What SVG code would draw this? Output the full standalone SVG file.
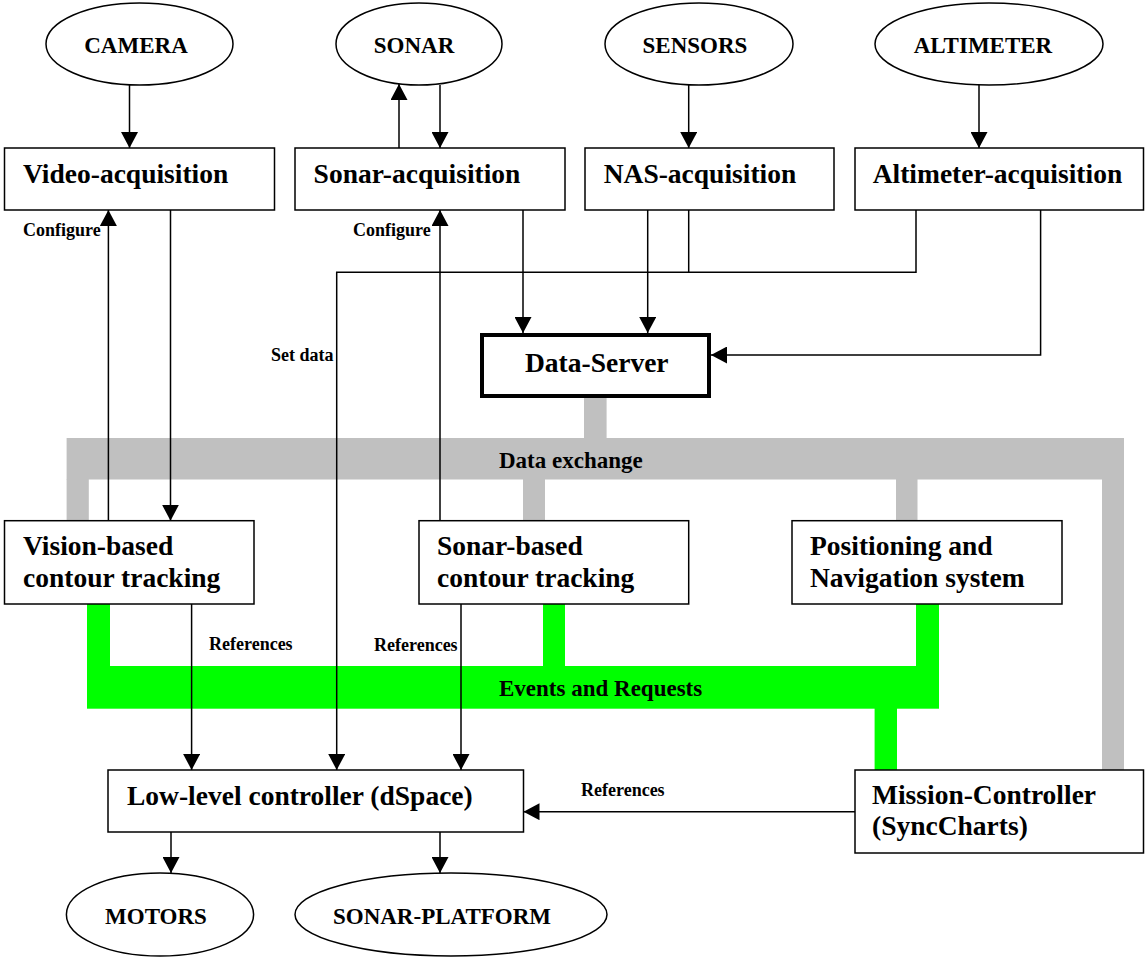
<svg xmlns="http://www.w3.org/2000/svg" width="1145" height="957" viewBox="0 0 1145 957">
<style>
.box{fill:#fff;stroke:#000;stroke-width:1.5}
.ell{fill:#fff;stroke:#000;stroke-width:1.5}
.bl{font-family:"Liberation Serif","Times New Roman",serif;font-weight:bold;font-size:27.5px;fill:#000}
.el{font-family:"Liberation Serif","Times New Roman",serif;font-weight:bold;font-size:23px;fill:#000;text-anchor:middle}
.sl{font-family:"Liberation Serif","Times New Roman",serif;font-weight:bold;font-size:18px;fill:#000}
.bus{font-family:"Liberation Serif","Times New Roman",serif;font-weight:bold;font-size:23px;fill:#000}
.ln{fill:none;stroke:#000;stroke-width:1.5}
.arr{fill:none;stroke:#000;stroke-width:1.5;marker-end:url(#ah)}
.gray{fill:#c0c0c0}
.green{fill:#00ff00}
</style>
<defs>
<marker id="ah" markerUnits="userSpaceOnUse" markerWidth="16" markerHeight="17" refX="16" refY="8.5" orient="auto">
<path d="M0,0 L16,8.5 L0,17 z" fill="#000"/>
</marker>
</defs>
<rect width="1145" height="957" fill="#fff"/>

<g id="buses">
<g id="data-exchange-bus">
<rect class="gray" x="584" y="398" width="22.6" height="41"/>
<rect class="gray" x="66.6" y="438" width="1057.4" height="41.5"/>
<rect class="gray" x="66.6" y="479" width="22.2" height="42"/>
<rect class="gray" x="523" y="479" width="22" height="42"/>
<rect class="gray" x="896" y="479" width="21.5" height="42"/>
<rect class="gray" x="1102" y="479" width="22" height="291"/>
<text class="bus" x="499" y="468">Data exchange</text>
</g>
<g id="events-bus">
<rect class="green" x="87" y="604" width="23" height="63"/>
<rect class="green" x="543" y="604" width="22" height="63"/>
<rect class="green" x="916" y="604" width="23" height="63"/>
<rect class="green" x="87" y="666" width="852" height="42.7"/>
<rect class="green" x="874.6" y="708" width="22.4" height="62"/>
<text class="bus" x="499" y="696">Events and Requests</text>
</g>
</g>

<g id="connectors">
<line class="arr" x1="129.5" y1="85" x2="129.5" y2="148"/>
<line class="arr" x1="170.5" y1="210" x2="170.5" y2="520.7"/>
<line class="arr" x1="108.4" y1="520.7" x2="108.4" y2="210"/>
<line class="arr" x1="399" y1="148" x2="399" y2="84"/>
<line class="arr" x1="440" y1="85" x2="440" y2="148"/>
<line class="arr" x1="440" y1="520.7" x2="440" y2="210"/>
<line class="arr" x1="523" y1="210" x2="523" y2="333"/>
<line class="arr" x1="688.7" y1="85" x2="688.7" y2="148"/>
<line class="arr" x1="979" y1="85" x2="979" y2="148"/>
<line class="arr" x1="647.7" y1="210" x2="647.7" y2="333"/>
<path class="arr" d="M916,210 V272.3 H336.7 V770"/>
<path class="ln" d="M688.7,210 V272.3"/>
<path class="arr" d="M1040.6,210 V355 H711"/>
<line class="arr" x1="191.6" y1="604" x2="191.6" y2="770"/>
<line class="arr" x1="461" y1="604" x2="461" y2="770"/>
<line class="arr" x1="855" y1="811.7" x2="523.5" y2="811.7"/>
<line class="arr" x1="171" y1="832" x2="171" y2="873"/>
<line class="arr" x1="440" y1="832" x2="440" y2="873"/>
<text class="sl" x="23" y="236">Configure</text>
<text class="sl" x="353" y="236">Configure</text>
<text class="sl" x="271" y="361">Set data</text>
<text class="sl" x="209" y="650">References</text>
<text class="sl" x="374" y="651">References</text>
<text class="sl" x="581" y="796">References</text>
</g>

<g id="camera"><ellipse class="ell" cx="139.5" cy="44" rx="93.5" ry="41"/><text class="el" x="136" y="53">CAMERA</text></g>
<g id="sonar"><ellipse class="ell" cx="419" cy="44" rx="83" ry="41"/><text class="el" x="414" y="53">SONAR</text></g>
<g id="sensors"><ellipse class="ell" cx="699" cy="44" rx="94" ry="41"/><text class="el" x="695" y="53">SENSORS</text></g>
<g id="altimeter"><ellipse class="ell" cx="989" cy="44" rx="114" ry="41"/><text class="el" x="983" y="53">ALTIMETER</text></g>

<g id="video-acquisition"><rect class="box" x="4.5" y="148" width="270" height="62"/><text class="bl" x="23" y="183">Video-acquisition</text></g>
<g id="sonar-acquisition"><rect class="box" x="295" y="148" width="270" height="62"/><text class="bl" x="313.6" y="183">Sonar-acquisition</text></g>
<g id="nas-acquisition"><rect class="box" x="585" y="148" width="249" height="62"/><text class="bl" x="603.7" y="183">NAS-acquisition</text></g>
<g id="altimeter-acquisition"><rect class="box" x="855" y="148" width="288.5" height="62"/><text class="bl" x="872.7" y="183">Altimeter-acquisition</text></g>

<g id="data-server"><rect x="482" y="335" width="227" height="61" fill="#fff" stroke="#000" stroke-width="4"/><text class="bl" x="525" y="372">Data-Server</text></g>

<g id="vision-tracking"><rect class="box" x="4.5" y="520.7" width="249.5" height="83.3"/><text class="bl" x="23" y="555">Vision-based</text><text class="bl" x="23" y="587">contour tracking</text></g>
<g id="sonar-tracking"><rect class="box" x="419" y="520.7" width="269.7" height="83.3"/><text class="bl" x="437" y="555">Sonar-based</text><text class="bl" x="437" y="587">contour tracking</text></g>
<g id="positioning"><rect class="box" x="792" y="520.7" width="270" height="83.3"/><text class="bl" x="810" y="555">Positioning and</text><text class="bl" x="810" y="587">Navigation system</text></g>

<g id="low-level-controller"><rect class="box" x="108" y="770" width="415.5" height="62"/><text class="bl" x="127" y="805">Low-level controller (dSpace)</text></g>
<g id="mission-controller"><rect class="box" x="855" y="770" width="288.5" height="83"/><text class="bl" x="872" y="804">Mission-Controller</text><text class="bl" x="872" y="835">(SyncCharts)</text></g>

<g id="motors"><ellipse class="ell" cx="160" cy="914.5" rx="93.6" ry="41.5"/><text class="el" x="156" y="924">MOTORS</text></g>
<g id="sonar-platform"><ellipse class="ell" cx="451" cy="914.5" rx="156" ry="41.5"/><text class="el" x="442" y="924">SONAR-PLATFORM</text></g>
</svg>
